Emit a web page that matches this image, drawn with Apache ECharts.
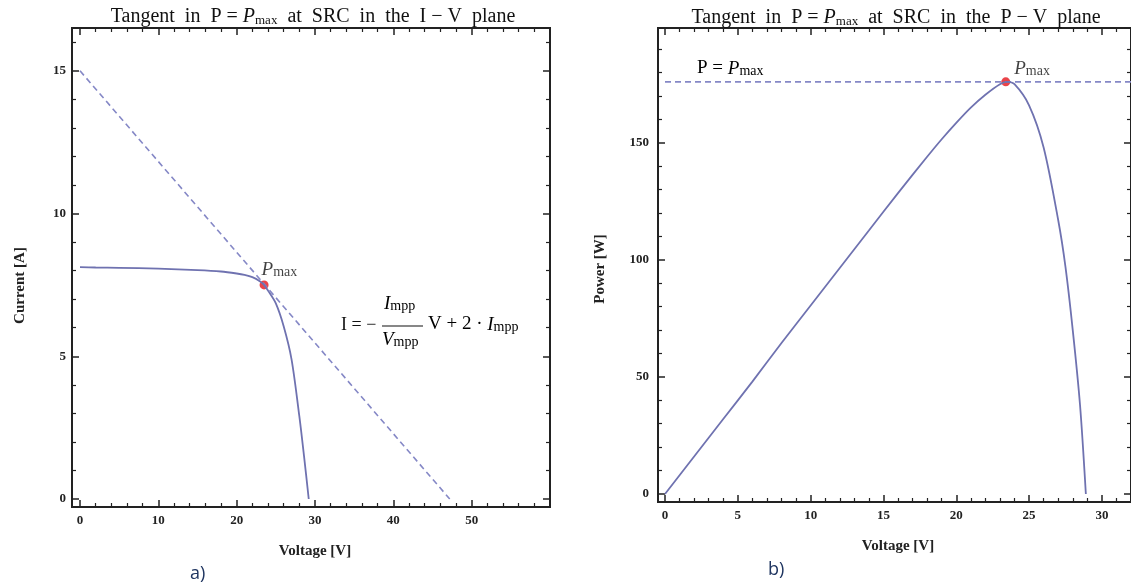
<!DOCTYPE html>
<html><head><meta charset="utf-8">
<script src="https://cdn.jsdelivr.net/npm/echarts@6/dist/echarts.min.js"></script>
<style>html,body{margin:0;padding:0;background:#fff}#c{width:1131px;height:587px}</style>
</head><body><div id="c"></div>
<script>
// ---- Data ----
// (a) I-V curve
const ivVoltage = [0, 2, 5, 10, 15, 18, 20, 21, 22, 23, 23.5, 24, 25, 26, 27, 28, 28.6, 29.2];
const ivCurrent = [8.12, 8.11, 8.1, 8.07, 8.02, 7.97, 7.9, 7.85, 7.77, 7.62, 7.5, 7.3, 6.85, 6.05, 4.9, 2.9, 1.5, 0];
// tangent line in Pmax (I-V plane)
const tangentV = [0, 47.2];
const tangentI = [15, 0];
const pmaxIV = [23.5, 7.5];
// (b) P-V curve
const pvVoltage = [0, 2, 4, 6, 8, 10, 12, 14, 16, 18, 19, 20, 21, 22, 23, 23.5, 24, 25, 26, 27, 27.5, 28, 28.5, 28.9];
const pvPower = [0, 16, 32, 48, 64.5, 80.5, 96.5, 112.5, 128.5, 144, 151.5, 158.5, 165, 170.5, 175, 176, 175, 166, 148, 117, 97, 70, 38, 0];
const pmaxPV = [23.4, 176];
const pmaxLineV = [0, 32];
// axis ticks
const ivXTicks = {min: 0, max: 60, interval: 10};
const ivYTicks = {min: 0, max: 16.5, interval: 5};
const pvXTicks = {min: 0, max: 32, interval: 5};
const pvYTicks = {min: 0, max: 199, interval: 50};

const curveColor = '#6f72b0';
const dashColor = '#8588c6';
const serif = 'Liberation Serif';
function richSet(big, small) {
  return {
    n: {fontFamily: serif, fontSize: big, fontWeight: 'normal', color: '#111'},
    i: {fontFamily: serif, fontSize: big, fontStyle: 'italic', fontWeight: 'normal', color: '#111'},
    s: {fontFamily: serif, fontSize: small, fontWeight: 'normal', color: '#111', verticalAlign: 'bottom'}
  };
}
const titleRich = richSet(20, 13);
const annRich = richSet(19, 14);

function mainAxis(t, gridIndex, pos, offset, name, nameGap, labelMargin, showLabel, namePad) {
  return {
    type: 'value', gridIndex, position: pos, offset,
    min: t.min, max: t.max, interval: t.interval,
    axisLine: {show: false, onZero: false},
    axisTick: {show: true, inside: true, length: 7, lineStyle: {color: '#222', width: 1.5}},
    minorTick: {show: true, splitNumber: 5, length: 4, lineStyle: {color: '#222', width: 1.2}},
    splitLine: {show: false},
    axisLabel: {show: showLabel, showMaxLabel: false, margin: labelMargin,
      fontFamily: serif, fontWeight: 'bold', fontSize: 13, color: '#222'},
    name: name || '', nameLocation: 'middle', nameGap: nameGap || 0,
    nameTextStyle: {fontFamily: serif, fontWeight: 'bold', fontSize: 15, color: '#222', padding: namePad || 0}
  };
}
function hiddenAxis(gridIndex) {
  return {type: 'value', gridIndex, show: false, min: 0, max: 1};
}

const zip = (a, b) => a.map((v, i) => [v, b[i]]);

const option = {
  animation: false,
  title: [
    {text: '{n|Tangent  in  P = }{i|P}{s|max}{n|  at  SRC  in  the  I − V  plane}',
     left: 308, top: 2, textAlign: 'center', textStyle: {rich: titleRich}},
    {text: '{n|Tangent  in  P = }{i|P}{s|max}{n|  at  SRC  in  the  P − V  plane}',
     left: 891, top: 3, textAlign: 'center', textStyle: {rich: titleRich}}
  ],
  grid: [
    {left: 72, top: 28, width: 478, height: 479, show: true, borderColor: '#222', borderWidth: 2, backgroundColor: 'transparent'},
    {left: 80, top: 28, width: 470, height: 471},
    {left: 658, top: 28, width: 473, height: 474, show: true, borderColor: '#222', borderWidth: 2, backgroundColor: 'transparent'},
    {left: 665, top: 28, width: 466, height: 466}
  ],
  xAxis: [
    hiddenAxis(0),
    mainAxis(ivXTicks, 1, 'bottom', 8, 'Voltage [V]', 37, 7, true),
    mainAxis(ivXTicks, 1, 'top', 0, '', 0, 7, false),
    hiddenAxis(2),
    mainAxis(pvXTicks, 3, 'bottom', 8, 'Voltage [V]', 37, 7, true),
    mainAxis(pvXTicks, 3, 'top', 0, '', 0, 7, false)
  ],
  yAxis: [
    hiddenAxis(0),
    mainAxis(ivYTicks, 1, 'left', 8, 'Current [A]', 44, 6, true, [0, 44, 0, 0]),
    mainAxis(ivYTicks, 1, 'right', 0, '', 0, 6, false),
    hiddenAxis(2),
    mainAxis(pvYTicks, 3, 'left', 7, 'Power [W]', 50, 9, true, [0, 16, 0, 0]),
    mainAxis(pvYTicks, 3, 'right', 0, '', 0, 6, false)
  ],
  series: [
    {type: 'line', xAxisIndex: 1, yAxisIndex: 1, data: zip(tangentV, tangentI), symbol: 'none',
     lineStyle: {color: dashColor, width: 1.6, type: [6, 4]}},
    {type: 'line', xAxisIndex: 1, yAxisIndex: 1, data: zip(ivVoltage, ivCurrent), symbol: 'none', smooth: 0.3,
     lineStyle: {color: curveColor, width: 1.8}},
    {type: 'scatter', xAxisIndex: 1, yAxisIndex: 1, data: [pmaxIV], symbolSize: 9, itemStyle: {color: '#e5141b'},
     label: {show: true, position: [2, -20], formatter: '{i|P}{s|max}', rich: annRich}},
    {type: 'line', xAxisIndex: 4, yAxisIndex: 4, data: zip(pmaxLineV, [pmaxPV[1], pmaxPV[1]]), symbol: 'none',
     lineStyle: {color: dashColor, width: 1.6, type: [6, 4]}},
    {type: 'line', xAxisIndex: 4, yAxisIndex: 4, data: zip(pvVoltage, pvPower), symbol: 'none', smooth: 0.3,
     lineStyle: {color: curveColor, width: 1.8}},
    {type: 'scatter', xAxisIndex: 4, yAxisIndex: 4, data: [pmaxPV], symbolSize: 9, itemStyle: {color: '#e5141b'},
     label: {show: true, position: [13, -18], formatter: '{i|P}{s|max}', rich: annRich}}
  ],
  graphic: [
    {type: 'text', left: 697, top: 59, style: {text: '{n|P = }{i|P}{s|max}', rich: annRich}},
    {type: 'text', left: 341, top: 316, style: {text: 'I = −', font: '18px "Liberation Serif"', fill: '#111'}},
    {type: 'text', left: 384, top: 294, style: {text: '{i|I}{s|mpp}', rich: annRich}},
    {type: 'line', shape: {x1: 382, y1: 326, x2: 423, y2: 326}, style: {stroke: '#111', lineWidth: 1.2}},
    {type: 'text', left: 382, top: 330, style: {text: '{i|V}{s|mpp}', rich: annRich}},
    {type: 'text', left: 428, top: 315, style: {text: '{n|V + 2 · }{i|I}{s|mpp}', rich: annRich}},
    {type: 'text', left: 190, top: 565, style: {text: 'a)', font: '18px "Open Sans"', fill: '#1f3560'}},
    {type: 'text', left: 768, top: 561, style: {text: 'b)', font: '18px "Open Sans"', fill: '#1f3560'}}
  ]
};
const chart = echarts.init(document.getElementById('c'));
chart.setOption(option);
</script></body></html>
